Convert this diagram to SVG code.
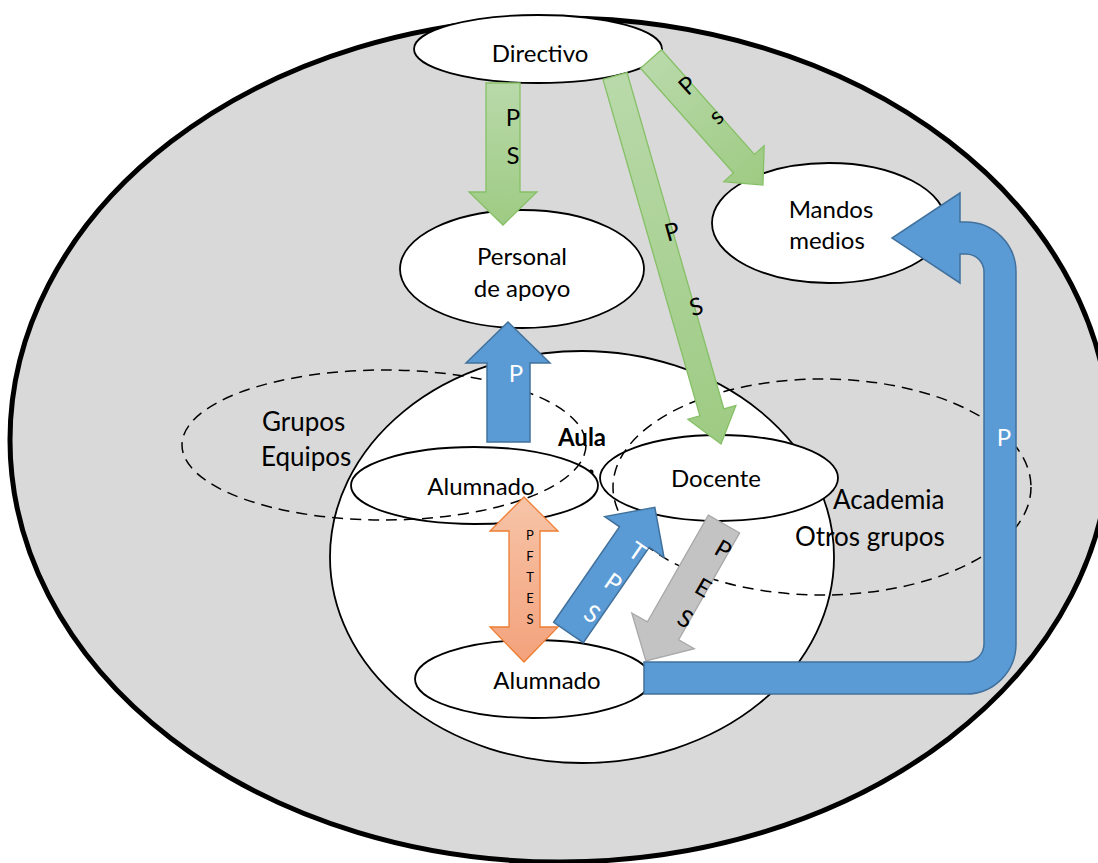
<svg xmlns="http://www.w3.org/2000/svg" width="1098" height="863" viewBox="0 0 1098 863">
<defs>
<linearGradient id="gGreen" x1="0" y1="0" x2="0" y2="1">
<stop offset="0" stop-color="#b9d9aa"/><stop offset="1" stop-color="#9ecb83"/>
</linearGradient>
<linearGradient id="gOrange" x1="0" y1="0" x2="0" y2="1">
<stop offset="0" stop-color="#f7c4a8"/><stop offset="1" stop-color="#f3a27c"/>
</linearGradient>
<style>
.node{fill:#fff;stroke:#000;stroke-width:1.8}
.dash{fill:none;stroke:#000;stroke-width:1.5;stroke-dasharray:11 7}
.t{font-family:Lato,"Open Sans","Liberation Sans",sans-serif;font-size:24px;fill:#000;text-anchor:middle}
.tl{font-family:Lato,"Open Sans","Liberation Sans",sans-serif;font-size:26px;fill:#000}
.green{fill:url(#gGreen);stroke:#86c066;stroke-width:1.3}
.blue{fill:#5b9bd5;stroke:#41719c;stroke-width:1.5}
.gray{fill:#c3c3c3;stroke:#a9a9a9;stroke-width:1.3}
.orange{fill:url(#gOrange);stroke:#ed7d31;stroke-width:1.3}
.lw{font-family:Lato,"Open Sans","Liberation Sans",sans-serif;font-size:24px;fill:#fff;text-anchor:middle}
.lb{font-family:Lato,"Open Sans","Liberation Sans",sans-serif;font-size:24px;fill:#000;text-anchor:middle}
.ls{font-family:Lato,"Open Sans","Liberation Sans",sans-serif;font-size:13px;fill:#000;text-anchor:middle}
</style>
</defs>
<rect width="1098" height="863" fill="#fff"/>
<g id="contexto">
<ellipse cx="560" cy="440" rx="550" ry="422" fill="#d9d9d9" stroke="#000" stroke-width="5"/>
</g>
<g id="aula">
<ellipse cx="582" cy="557" rx="252" ry="206" class="node"/>
<text x="582" y="446" class="t" font-weight="bold">Aula</text>
<circle cx="591" cy="472" r="2.5" fill="#000"/>
</g>
<g id="directivo">
<ellipse cx="538" cy="49" rx="124" ry="34" class="node"/>
<text x="540" y="62" class="t">Directivo</text>
</g>
<g id="personal">
<ellipse cx="522" cy="269" rx="122" ry="59" class="node"/>
<text x="522" y="265" class="t">Personal</text>
<text x="522" y="297" class="t">de apoyo</text>
</g>
<g id="mandos">
<ellipse cx="829" cy="223" rx="117" ry="60" class="node"/>
<text x="831" y="218" class="t">Mandos</text>
<text x="827" y="249" class="t">medios</text>
</g>
<g id="alumnado-grupo">
<ellipse cx="474.5" cy="485.5" rx="123.5" ry="38.5" class="node"/>
<text x="481" y="495" class="t">Alumnado</text>
</g>
<g id="docente">
<ellipse cx="719" cy="478" rx="119" ry="43" class="node"/>
<text x="716" y="487" class="t">Docente</text>
</g>
<g id="alumnado-aula">
<ellipse cx="533" cy="679" rx="118" ry="39" class="node"/>
<text x="547" y="689" class="t">Alumnado</text>
</g>
<g id="grupos">
<ellipse cx="384" cy="445" rx="202" ry="75" class="dash"/>
<text x="262" y="431" class="tl">Grupos</text>
<text x="261" y="466" class="tl">Equipos</text>
</g>
<g id="academia">
<ellipse cx="822" cy="487" rx="209" ry="108" class="dash"/>
<text x="833" y="509" class="tl">Academia</text>
<text x="795" y="546" class="tl">Otros grupos</text>
</g>
<g id="connectors">
<g id="dir-personal">
<path class="green" d="M486 83 L520 83 L520 192 L537 192 L503 225 L469 192 L486 192 Z"/>
<text x="513" y="126" class="lb">P</text>
<text x="513" y="164" class="lb">S</text>
</g>
<g id="dir-docente" transform="translate(615 76) rotate(-16.07)">
<path class="green" d="M-12.5 0 L12.5 0 L12.5 350 L25 350 L0 383 L-25 350 L-12.5 350 Z"/>
</g>
<text x="672" y="240" class="lb" transform="rotate(-16 672 231)">P</text>
<text x="696" y="315" class="lb" transform="rotate(-16 696 306)">S</text>
<g id="dir-mandos" transform="translate(651 59) rotate(-41.6)">
<path class="green" d="M-14 0 L14 0 L14 140 L27 140 L0 168.6 L-27 140 L-14 140 Z"/>
</g>
<text x="687" y="94" class="lb" transform="rotate(-42 687 85)">P</text>
<text x="717" y="124" class="lb" transform="rotate(-42 717 117)">s</text>
<g id="alumnado-personal">
<path class="blue" d="M487 442 L487 363 L466 363 L508 322 L550 363 L530 363 L530 442 Z"/>
<text x="516" y="382" class="lw">P</text>
</g>
<g id="alumnado-alumnado">
<path class="orange" d="M509 531 L490 531 L524 497 L558 531 L540 531 L540 627 L558 627 L524 662 L490 627 L509 627 Z"/>
<text x="530" y="540" class="ls">P</text>
<text x="530" y="561" class="ls">F</text>
<text x="530" y="582" class="ls">T</text>
<text x="530" y="603" class="ls">E</text>
<text x="530" y="624" class="ls">S</text>
</g>
<g id="alumnado-docente" transform="translate(568.5 632.5) rotate(34.6)">
<path class="blue" d="M-18 0 L-18 -116 L-36 -116 L0 -152 L36 -116 L18 -116 L18 0 Z"/>
</g>
<text x="637" y="560" class="lw" transform="rotate(34.6 637 552)">T</text>
<text x="613" y="591" class="lw" transform="rotate(34.6 613 583)">P</text>
<text x="592" y="622" class="lw" transform="rotate(34.6 592 614)">S</text>
<g id="docente-alumnado" transform="translate(724 524) rotate(29.7)">
<path class="gray" d="M-18 0 L18 0 L18 123 L36 123 L0 157.6 L-36 123 L-18 123 Z"/>
</g>
<text x="723" y="558" class="lb" transform="rotate(29.7 723 550)">P</text>
<text x="703" y="596" class="lb" transform="rotate(29.7 703 588)">E</text>
<text x="685" y="627" class="lb" transform="rotate(29.7 685 619)">S</text>
<g id="alumnado-mandos">
<path class="blue" d="M644 662 L966 662 A18 18 0 0 0 984 644 L984 272 A18 18 0 0 0 966 254 L960 254 L960 283 L892 238 L960 193 L960 222 L966 222 A50 50 0 0 1 1016 272 L1016 644 A50 50 0 0 1 966 694 L644 694 Z"/>
<text x="1004" y="446" class="lw">P</text>
</g>
</g>
</svg>
